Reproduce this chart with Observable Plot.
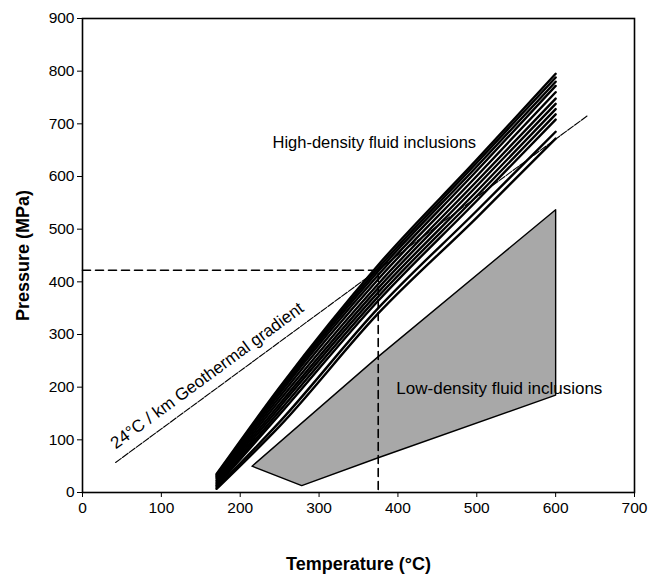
<!DOCTYPE html>
<html>
<head>
<meta charset="utf-8">
<script src="https://cdn.jsdelivr.net/npm/d3@7"></script>
<script src="https://cdn.jsdelivr.net/npm/@observablehq/plot@0.6"></script>
<style>
  html, body { margin: 0; padding: 0; background: #fff; }
  #chart svg { font-family: "Liberation Sans", Arial, sans-serif; }
</style>
</head>
<body>
<div id="chart"></div>
<script>
// ---- data ----
const xTicks = [0, 100, 200, 300, 400, 500, 600, 700];
const yTicks = [0, 100, 200, 300, 400, 500, 600, 700, 800, 900];

// isochores of high-density fluid inclusions: temperature nodes and pressures (MPa)
const isoT = [170, 250, 375, 500, 600];
const isoP = [
  [35, 200, 432, 632, 795],
  [33, 196, 426, 626, 788],
  [31, 192, 420, 619, 780],
  [29, 188, 413, 611, 772],
  [26, 182, 405, 601, 760],
  [23, 175, 396, 591, 748],
  [20, 168, 388, 582, 738],
  [17, 162, 380, 572, 728],
  [14, 155, 372, 563, 718],
  [12, 148, 364, 554, 708],
  [9, 134, 350, 535, 685],
  [7, 126, 340, 522, 672]
];

// low-density field outline
const lowT = [215, 375, 600, 600, 375, 278, 215];
const lowP = [50, 258, 537, 185, 66, 13, 50];

// 24 °C/km geothermal gradient
const geoT = [42, 640];
const geoP = [57, 715];

// P–T intersection guide
const guideT = [0, 375, 375];
const guideP = [422, 422, 0];

// ---- tables ----
const isochores = isoP.flatMap((ps, i) => ps.map((p, j) => ({id: i, T: isoT[j], P: p})));
const lowField = lowT.map((t, i) => ({T: t, P: lowP[i]}));
const geo = geoT.map((t, i) => ({T: t, P: geoP[i]}));
const guide = guideT.map((t, i) => ({T: t, P: guideP[i]}));

const chart = Plot.plot({
  width: 657,
  height: 580,
  marginLeft: 82,
  marginRight: 23,
  marginTop: 18,
  marginBottom: 88,
  style: {fontFamily: "'Liberation Sans', Arial, sans-serif", fontSize: "15px", color: "#000", background: "#fff"},
  x: {domain: [0, 700]},
  y: {domain: [0, 900]},
  marks: [
    Plot.line(lowField, {x: "T", y: "P", fill: "#a8a8a8", stroke: "#000", strokeWidth: 1.4}),
    Plot.line(guide, {x: "T", y: "P", stroke: "#000", strokeWidth: 1.6, strokeDasharray: "8,5"}),
    Plot.line(geo, {x: "T", y: "P", stroke: "#000", strokeWidth: 1.1, strokeDasharray: "7,1.5"}),
    Plot.line(isochores, {x: "T", y: "P", z: "id", curve: "monotone-x", stroke: "#000", strokeWidth: 2.4}),
    Plot.text(["High-density fluid inclusions"], {x: 370, y: 665, text: d => d, fontSize: 16.5, fill: "#000"}),
    Plot.text(["Low-density fluid inclusions"], {x: 398, y: 197, text: d => d, fontSize: 17, fill: "#000", textAnchor: "start"}),
    Plot.text(["24°C / km Geothermal gradient"], {x: 158, y: 222, text: d => d, fontSize: 17, fill: "#000", rotate: -36.3}),
    Plot.frame({stroke: "#000", strokeWidth: 1.6}),
    Plot.axisX({ticks: xTicks, tickSize: 5, tickPadding: 4, fontSize: 15.5, label: "Temperature (°C)", labelAnchor: "center", labelArrow: "none", labelOffset: 77}),
    Plot.axisY({ticks: yTicks, tickSize: 5, tickPadding: 3, fontSize: 15.5, label: "Pressure (MPa)", labelAnchor: "center", labelArrow: "none", labelOffset: 66})
  ]
});

// bold axis titles
d3.select(chart).selectAll("g[aria-label='x-axis label'] text, g[aria-label='y-axis label'] text")
  .style("font-weight", "bold").style("font-size", "18px");

document.getElementById("chart").appendChild(chart);
</script>
</body>
</html>
